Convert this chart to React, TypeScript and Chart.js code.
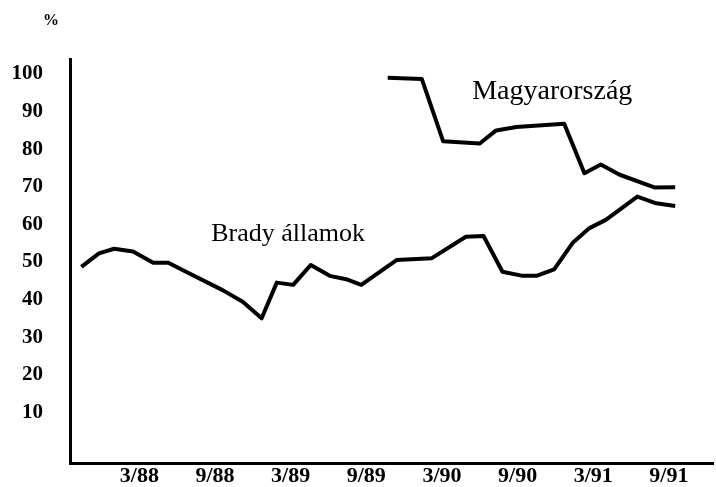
import React, { useEffect, useRef } from "react";
import { Chart, registerables } from "chart.js";

Chart.register(...registerables);

// x values are months counted from January 1988 (0 = 1/88)
const tickMonths = [2, 8, 14, 20, 26, 32, 38, 44];
const tickLabels = ["3/88", "9/88", "3/89", "9/89", "3/90", "9/90", "3/91", "9/91"];
const yTicks = [10, 20, 30, 40, 50, 60, 70, 80, 90, 100];

const bradyMonths = [-2.6, -1.2, 0, 1.5, 3.1, 4.3, 5.7, 8.6, 10.2, 11.7, 12.9, 14.2, 15.6, 17.1, 18.4, 19.6, 22.4, 25.2, 27.9, 29.3, 30.8, 32.4, 33.5, 34.9, 36.4, 37.7, 39.0, 41.5, 43.0, 44.5];
const bradyValues = [48.7, 52.3, 53.5, 52.8, 49.8, 49.8, 47.4, 42.5, 39.4, 35.0, 44.5, 43.9, 49.2, 46.3, 45.4, 43.9, 50.5, 51.0, 56.7, 56.9, 47.4, 46.3, 46.3, 48.0, 55.2, 59.0, 61.2, 67.4, 65.6, 64.9];

const hungaryMonths = [21.7, 24.4, 26.1, 29.0, 30.3, 31.9, 35.7, 37.3, 38.6, 40.1, 42.9, 44.5];
const hungaryValues = [99.0, 98.7, 82.1, 81.5, 85.0, 85.9, 86.8, 73.6, 75.9, 73.2, 69.8, 69.9];

const seriesNames = ["Brady államok", "Magyarország"];
const unitLabel = "%";

const SERIF = "'Liberation Serif', 'DejaVu Serif', serif";

const labelPlugin = {
  id: "seriesLabels",
  afterDraw(chart: any) {
    const { ctx, scales, chartArea } = chart;
    const xs = scales.x;
    const ys = scales.y;
    ctx.save();
    ctx.fillStyle = "#000";
    ctx.textBaseline = "alphabetic";
    ctx.textAlign = "left";
    ctx.font = `26px ${SERIF}`;
    ctx.fillText(seriesNames[0], xs.getPixelForValue(7.7), ys.getPixelForValue(55.6));
    ctx.font = `28px ${SERIF}`;
    ctx.fillText(seriesNames[1], xs.getPixelForValue(28.4), ys.getPixelForValue(93.3));
    ctx.font = `bold 16px ${SERIF}`;
    ctx.textAlign = "center";
    ctx.fillText(unitLabel, chartArea.left - 19, 25);
    ctx.restore();
  },
};

export default function App() {
  const ref = useRef<HTMLCanvasElement | null>(null);
  useEffect(() => {
    if (!ref.current) return;
    const lineStyle = {
      borderColor: "#000",
      borderWidth: 4,
      pointRadius: 0,
      tension: 0,
      borderJoinStyle: "round" as const,
      fill: false,
    };
    const chart = new Chart(ref.current, {
      type: "line",
      data: {
        datasets: [
          {
            label: seriesNames[0],
            data: bradyMonths.map((m, i) => ({ x: m, y: bradyValues[i] })),
            ...lineStyle,
          },
          {
            label: seriesNames[1],
            data: hungaryMonths.map((m, i) => ({ x: m, y: hungaryValues[i] })),
            ...lineStyle,
          },
        ],
      },
      options: {
        animation: false,
        responsive: false,
        maintainAspectRatio: false,
        devicePixelRatio: 1,
        layout: { padding: { top: 59, right: 3, left: 0, bottom: 0 } },
        plugins: { legend: { display: false }, tooltip: { enabled: false } },
        scales: {
          x: {
            type: "linear",
            min: -3.5,
            max: 47.5,
            grid: { display: false, drawTicks: false },
            border: { display: true, color: "#000", width: 3 },
            afterBuildTicks: (scale: any) => {
              scale.ticks = tickMonths.map((v) => ({ value: v }));
            },
            afterFit: (scale: any) => {
              scale.height = 24;
            },
            ticks: {
              autoSkip: false,
              maxRotation: 0,
              padding: 0,
              color: "#000",
              font: { family: SERIF, size: 22, weight: "bold" },
              callback: (v: any) => {
                const i = tickMonths.indexOf(Number(v));
                return i >= 0 ? tickLabels[i] : "";
              },
            },
          },
          y: {
            type: "linear",
            min: -3.5,
            max: 104,
            grid: { display: false, drawTicks: false },
            border: { display: true, color: "#000", width: 3 },
            afterBuildTicks: (scale: any) => {
              scale.ticks = yTicks.map((v) => ({ value: v }));
            },
            afterFit: (scale: any) => {
              scale.width = 70;
              scale.paddingTop = 0;
              scale.paddingBottom = 0;
            },
            ticks: {
              padding: 27,
              color: "#000",
              font: { family: SERIF, size: 21, weight: "bold" },
            },
          },
        },
      },
      plugins: [labelPlugin],
    });
    return () => chart.destroy();
  }, []);
  return (
    <div style={{ position: "absolute", left: 0, top: 0, width: 716, height: 487, background: "#fff" }}>
      <canvas ref={ref} width={716} height={487} style={{ display: "block" }} />
    </div>
  );
}
